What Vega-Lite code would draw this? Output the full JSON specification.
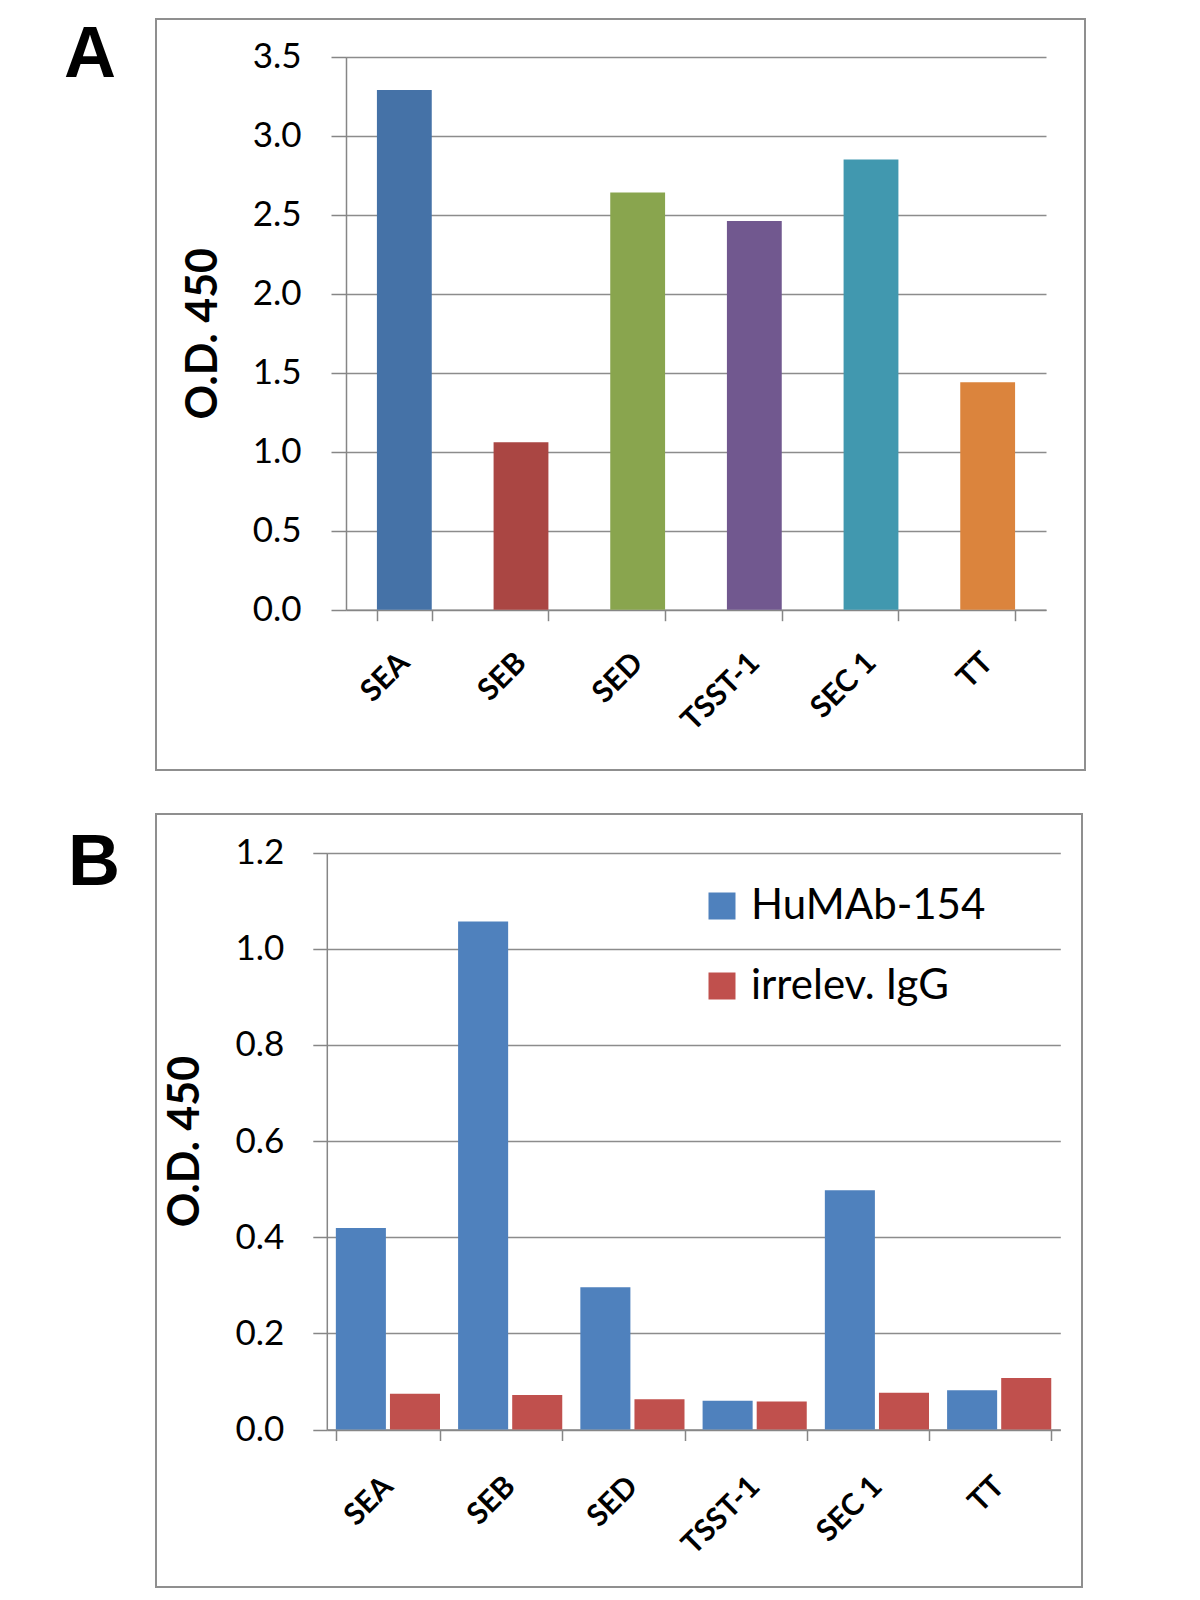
{
  "$schema": "https://vega.github.io/schema/vega-lite/v6.json",
  "padding": {"left": 63, "top": 18, "right": 10, "bottom": 10},
  "background": "white",
  "bounds": "flush",
  "spacing": 44,
  "resolve": {"scale": {"color": "independent"}, "legend": {"color": "independent"}},
  "config": {
    "view": {"stroke": "#8f8f8f", "strokeWidth": 2},
    "font": "Lato",
    "axis": {
      "labelFont": "Lato",
      "titleFont": "Lato",
      "labelColor": "#000000",
      "titleColor": "#000000",
      "domainColor": "#868686",
      "tickColor": "#868686",
      "gridColor": "#8c8c8c",
      "gridWidth": 1.5,
      "domainWidth": 1.5,
      "tickWidth": 1.5
    },
    "title": {
      "font": "Liberation Sans",
      "fontWeight": "bold",
      "fontSize": 72,
      "anchor": "start",
      "frame": "group",
      "offset": 0,
      "baseline": "alphabetic",
      "color": "#000000"
    }
  },
  "vconcat": [
    {
      "title": {"text": "A", "dx": -92, "dy": 77},
      "width": 929,
      "height": 751,
      "data": {
        "values": [
          {"antigen": "SEA", "od": 3.29},
          {"antigen": "SEB", "od": 1.06},
          {"antigen": "SED", "od": 2.64},
          {"antigen": "TSST-1", "od": 2.46},
          {"antigen": "SEC 1", "od": 2.85},
          {"antigen": "TT", "od": 1.44}
        ]
      },
      "mark": {"type": "bar"},
      "encoding": {
        "x": {
          "field": "antigen",
          "type": "nominal",
          "sort": null,
          "scale": {"range": [190, 890], "paddingInner": 0.53, "paddingOuter": 0.265},
          "axis": {
            "title": null,
            "offset": -160.3,
            "tickBand": "extent",
            "tickSize": 11,
            "labelAngle": -45,
            "labelAlign": "right",
            "labelBaseline": "middle",
            "labelFontSize": 30,
            "labelFontWeight": "bold",
            "labelPadding": 37,
            "grid": false
          }
        },
        "y": {
          "field": "od",
          "type": "quantitative",
          "scale": {"domain": [0, 3.5], "range": [590.7, 37.7], "nice": false},
          "axis": {
            "title": "O.D. 450",
            "values": [0, 0.5, 1, 1.5, 2, 2.5, 3, 3.5],
            "format": ".1f",
            "offset": -190,
            "tickSize": 15,
            "labelPadding": 30,
            "labelFontSize": 35,
            "titleFontSize": 43,
            "titleFontWeight": "bold",
            "titlePadding": 27,
            "grid": true
          }
        },
        "color": {
          "field": "antigen",
          "type": "nominal",
          "scale": {
            "domain": ["SEA", "SEB", "SED", "TSST-1", "SEC 1", "TT"],
            "range": ["#4572A7", "#AA4643", "#89A54E", "#71588F", "#4198AF", "#DB843D"]
          },
          "legend": null
        }
      }
    },
    {
      "title": {"text": "B", "dx": -88, "dy": 90},
      "width": 926,
      "height": 773,
      "data": {
        "values": [
          {"antigen": "SEA", "series": "HuMAb-154", "od": 0.419},
          {"antigen": "SEA", "series": "irrelev. IgG", "od": 0.0745},
          {"antigen": "SEB", "series": "HuMAb-154", "od": 1.057},
          {"antigen": "SEB", "series": "irrelev. IgG", "od": 0.072},
          {"antigen": "SED", "series": "HuMAb-154", "od": 0.296},
          {"antigen": "SED", "series": "irrelev. IgG", "od": 0.063},
          {"antigen": "TSST-1", "series": "HuMAb-154", "od": 0.06},
          {"antigen": "TSST-1", "series": "irrelev. IgG", "od": 0.058},
          {"antigen": "SEC 1", "series": "HuMAb-154", "od": 0.498},
          {"antigen": "SEC 1", "series": "irrelev. IgG", "od": 0.0766},
          {"antigen": "TT", "series": "HuMAb-154", "od": 0.0815},
          {"antigen": "TT", "series": "irrelev. IgG", "od": 0.107}
        ]
      },
      "mark": {"type": "bar"},
      "encoding": {
        "x": {
          "field": "antigen",
          "type": "nominal",
          "sort": null,
          "scale": {"range": [170.8, 904.3], "paddingInner": 0.148, "paddingOuter": 0.074},
          "axis": {
            "title": null,
            "offset": -157.5,
            "tickBand": "extent",
            "tickSize": 11,
            "labelAngle": -45,
            "labelAlign": "right",
            "labelBaseline": "middle",
            "labelFontSize": 30,
            "labelFontWeight": "bold",
            "labelPadding": 41,
            "grid": false
          }
        },
        "xOffset": {
          "field": "series",
          "type": "nominal",
          "sort": null,
          "scale": {"paddingInner": 0.075, "paddingOuter": 0}
        },
        "y": {
          "field": "od",
          "type": "quantitative",
          "scale": {"domain": [0, 1.2], "range": [615.5, 38.7], "nice": false},
          "axis": {
            "title": "O.D. 450",
            "values": [0, 0.2, 0.4, 0.6, 0.8, 1.0, 1.2],
            "format": ".1f",
            "offset": -170.8,
            "tickSize": 14,
            "labelPadding": 29,
            "labelFontSize": 35,
            "titleFontSize": 43,
            "titleFontWeight": "bold",
            "titlePadding": 27,
            "grid": true
          }
        },
        "color": {
          "field": "series",
          "type": "nominal",
          "scale": {"domain": ["HuMAb-154", "irrelev. IgG"], "range": ["#4F81BD", "#C0504D"]},
          "legend": {
            "orient": "none",
            "legendX": 545,
            "legendY": 71,
            "title": null,
            "symbolType": "square",
            "symbolSize": 729,
            "symbolStrokeWidth": 0,
            "labelFont": "Lato",
            "labelFontSize": 42,
            "labelLimit": 0,
            "labelColor": "#000000",
            "rowPadding": 38,
            "labelOffset": 8
          }
        }
      }
    }
  ]
}
